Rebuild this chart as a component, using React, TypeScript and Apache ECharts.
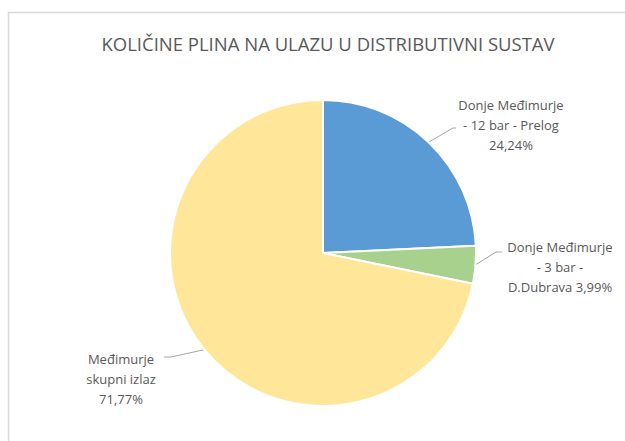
import React, { useEffect, useRef } from "react";
import * as echarts from "echarts";

const titleText = "KOLIČINE PLINA NA ULAZU U DISTRIBUTIVNI SUSTAV";
const categories = [
  "Donje Međimurje\n- 12 bar - Prelog",
  "Donje Međimurje\n- 3 bar -\nD.Dubrava",
  "Međimurje\nskupni izlaz",
];
const values = [24.24, 3.99, 71.77];
const colors = ["#5B9BD5", "#A9D18E", "#FFE699"];
// label anchor positions (px) for each slice label
const labelPos = [
  [511, 125],
  [560, 267],
  [121, 379],
];
// leader line elbow and end (px)
const leaderEnds = [
  [[453, 128], [456, 128]],
  [[496, 252], [502, 252]],
  [[171, 357], [164, 357]],
];

export default function App() {
  const ref = useRef<HTMLDivElement>(null);
  useEffect(() => {
    if (!ref.current) return;
    const chart = echarts.init(ref.current, undefined, { renderer: "svg" });
    const total = values.reduce((a, b) => a + b, 0);
    chart.setOption({
      animation: false,
      backgroundColor: "#ffffff",
      title: {
        text: titleText,
        left: 323,
        top: 29,
        textAlign: "center",
        textStyle: {
          fontFamily: "Open Sans",
          fontSize: 18.5,
          fontWeight: "normal",
          color: "#595959",
        },
      },
      graphic: [
        {
          type: "rect",
          shape: { x: 8.5, y: 12.5, width: 700, height: 500 },
          style: { fill: "none", stroke: "#d9d9d9", lineWidth: 1.5 },
          silent: true,
        },
      ],
      series: [
        {
          type: "pie",
          center: [323, 253],
          radius: 153,
          startAngle: 90,
          clockwise: true,
          itemStyle: { borderColor: "#ffffff", borderWidth: 2 },
          label: {
            show: true,
            fontFamily: "Open Sans",
            fontSize: 13,
            lineHeight: 20,
            color: "#595959",
            align: "center",
            overflow: "none",
            width: 200,
            formatter: (p: any) => {
              const pct = ((p.value / total) * 100).toFixed(2).replace(".", ",") + "%";
              if (p.dataIndex === 1) return p.name + " " + pct;
              return p.name + "\n" + pct;
            },
          },
          labelLine: {
            show: true,
            lineStyle: { color: "#a6a6a6", width: 1 },
          },
          labelLayout: (params: any) => {
            const i = params.dataIndex;
            const pos = labelPos[i];
            const out: any = { x: pos[0], y: pos[1], align: "center", verticalAlign: "middle" };
            const orig = params.labelLinePoints;
            if (orig && orig.length) {
              out.labelLinePoints = [orig[0], leaderEnds[i][0], leaderEnds[i][1]];
            }
            return out;
          },
          data: categories.map((name, i) => ({
            name,
            value: values[i],
            itemStyle: { color: colors[i] },
          })),
        },
      ],
    });
    return () => chart.dispose();
  }, []);
  return (
    <div
      ref={ref}
      style={{ position: "fixed", left: 0, top: 0, width: 625, height: 441 }}
    />
  );
}
